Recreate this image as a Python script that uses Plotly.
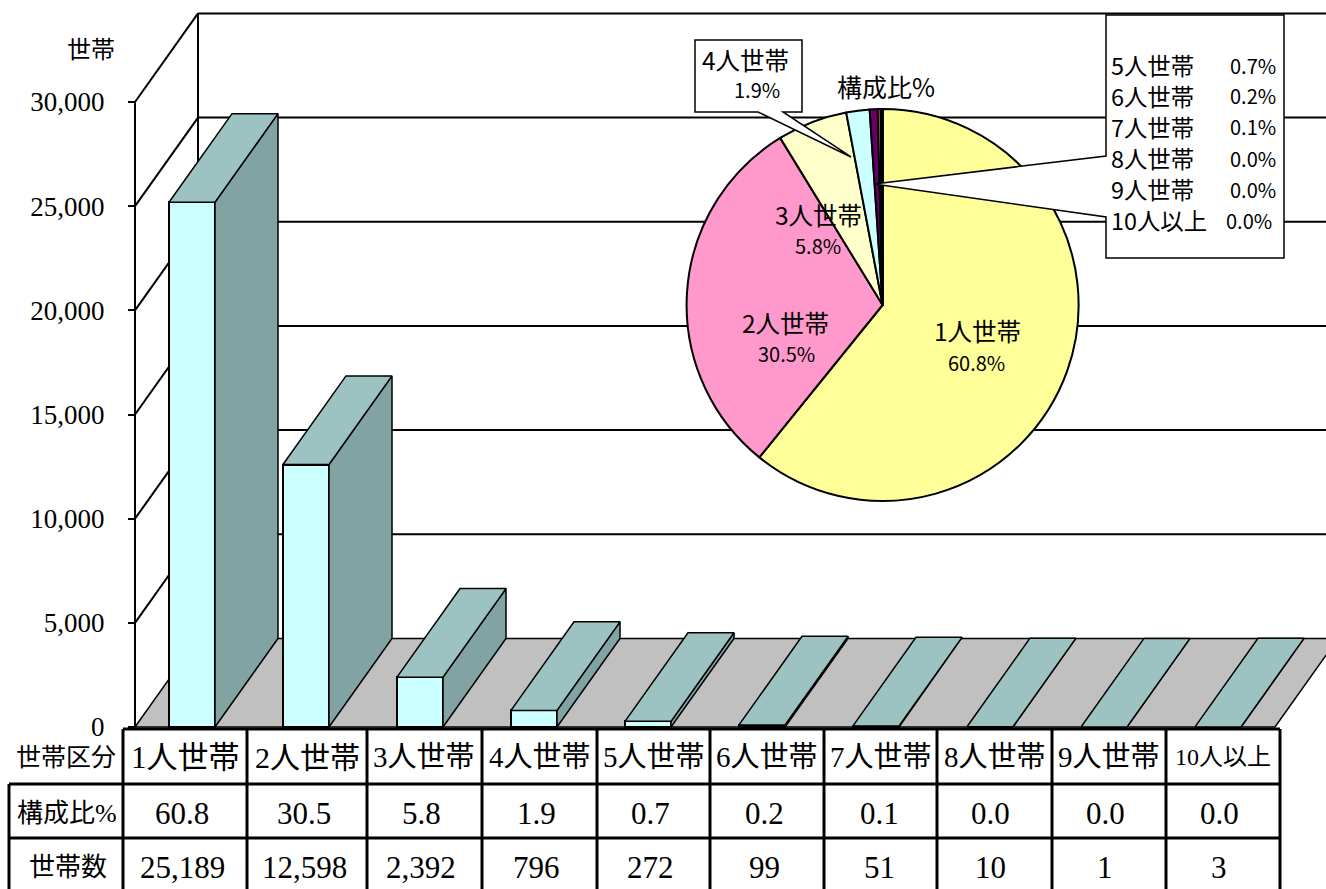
import plotly.graph_objects as go

# ---------- data ----------
categories = ["1人世帯", "2人世帯", "3人世帯", "4人世帯", "5人世帯", "6人世帯", "7人世帯", "8人世帯", "9人世帯", "10人以上"]
households = [25189, 12598, 2392, 796, 272, 99, 51, 10, 1, 3]
shares = [60.8, 30.5, 5.8, 1.9, 0.7, 0.2, 0.1, 0.0, 0.0, 0.0]
y_ticks = [0, 5000, 10000, 15000, 20000, 25000, 30000]
pie_colors = ["#FFFF99", "#FF99CC", "#FFFFCC", "#CCFFFF", "#660066", "#FF8080", "#0066CC", "#CCCCFF", "#000080", "#FF00FF"]

# ---------- layout constants ----------
W, H = 1326, 889
PX_PER_CAT = 114.0
PX_PER_VAL = 625.0 / 30000.0
X0_PX, Y0_PX = 192.0, 727.0          # pixel of category 0 / value 0
DEPTH_X = 63.0 / PX_PER_CAT
DEPTH_Y = 88.6 / PX_PER_VAL
BAR_W = 46.0 / PX_PER_CAT
X_MIN, X_MAX = -0.5, 9.5
Y_TOP = 30000
SERIF = "Liberation Serif, Noto Sans CJK JP, serif"
SANS = "Noto Sans CJK JP, sans-serif"
BLACK = "#000000"

col_edges = [123, 247, 367, 482, 597, 710, 824, 937, 1052, 1166, 1280]
row_edges = [729, 784, 838, 892]
row_centers = [757, 813, 867]
label_sizes = [31, 30, 29, 29, 29, 29, 29, 29, 29, 24]
value_centers = [182, 304, 421, 536, 650, 765, 879, 990, 1105, 1219]


def px(x):
    return x / W


def py(y):
    return 1 - y / H


def text(x, y, s, size, family=SANS, anchor="center"):
    return dict(x=px(x), y=py(y), xref="paper", yref="paper", text=s, showarrow=False,
                xanchor=anchor, yanchor="middle", borderpad=0, borderwidth=0,
                font=dict(family=family, size=size, color=BLACK))


def line(x0, y0, x1, y1, width=2, layer="below"):
    return dict(type="line", xref="x", yref="y", x0=x0, y0=y0, x1=x1, y1=y1, layer=layer,
                line=dict(color=BLACK, width=width))


def pline(x0, y0, x1, y1, width=3):
    return dict(type="line", xref="paper", yref="paper", x0=px(x0), y0=py(y0), x1=px(x1), y1=py(y1),
                layer="above", line=dict(color=BLACK, width=width))


def ppath(points):
    d = "M " + " L ".join(f"{px(a):.5f},{py(b):.5f}" for a, b in points) + " Z"
    return dict(type="path", xref="paper", yref="paper", path=d, layer="above",
                fillcolor="#FFFFFF", line=dict(color=BLACK, width=1.5))


xs = list(range(len(categories)))
fig = go.Figure()

# ---------- 3-D side and top faces, built from the values ----------
side_x, side_y, top_x, top_y = [], [], [], []
for i, v in zip(xs, households):
    r = i + BAR_W / 2
    l = i - BAR_W / 2
    side_x += [r, r + DEPTH_X, r + DEPTH_X, r, r, None]
    side_y += [0, DEPTH_Y, v + DEPTH_Y, v, 0, None]
    top_x += [l, r, r + DEPTH_X, l + DEPTH_X, l, None]
    top_y += [v, v, v + DEPTH_Y, v + DEPTH_Y, v, None]

fig.add_trace(go.Bar(x=xs, y=households, width=BAR_W, marker=dict(color="#CCFFFF", line=dict(color=BLACK, width=2)),
                     hoverinfo="skip"))
fig.add_trace(go.Scatter(x=side_x, y=side_y, mode="lines", fill="toself", fillcolor="#82A3A3",
                         line=dict(color=BLACK, width=1.5), hoverinfo="skip"))
fig.add_trace(go.Scatter(x=top_x, y=top_y, mode="lines", fill="toself", fillcolor="#9DC2C2",
                         line=dict(color=BLACK, width=1.5), hoverinfo="skip"))

# ---------- pie ----------
fig.add_trace(go.Pie(labels=categories, values=households, sort=False, direction="clockwise", rotation=0,
                     marker=dict(colors=pie_colors, line=dict(color=BLACK, width=2)),
                     textinfo="none", hoverinfo="label+percent", showlegend=False,
                     domain=dict(x=[px(686.6), px(1078.6)], y=[py(501), py(109)])))

# ---------- walls, floor, grid ----------
shapes = []
floor = (f"M {X_MIN},0 L {X_MIN + DEPTH_X},{DEPTH_Y} L {X_MAX + DEPTH_X},{DEPTH_Y} L {X_MAX},0 Z")
shapes.append(dict(type="path", xref="x", yref="y", path=floor, layer="below", fillcolor="#C0C0C0",
                   line=dict(color=BLACK, width=1.5)))
for v in y_ticks[1:]:
    shapes.append(line(X_MIN, v, X_MIN + DEPTH_X, v + DEPTH_Y))
    shapes.append(line(X_MIN + DEPTH_X, v + DEPTH_Y, X_MAX + DEPTH_X, v + DEPTH_Y))
shapes.append(line(X_MIN, 0, X_MIN, Y_TOP))
shapes.append(line(X_MIN + DEPTH_X, DEPTH_Y, X_MIN + DEPTH_X, Y_TOP + DEPTH_Y))

# ---------- callouts ----------
shapes.append(ppath([(695, 40), (802, 40), (802, 112), (783, 112), (851, 157), (758, 112), (695, 112)]))
shapes.append(ppath([(1106, 15), (1284, 15), (1284, 258), (1106, 258), (1106, 217), (874, 184), (1106, 156)]))

# ---------- table grid ----------
shapes.append(pline(col_edges[0], row_edges[0], col_edges[-1], row_edges[0]))
for r in row_edges[1:3]:
    shapes.append(pline(9, r, col_edges[-1], r))
shapes.append(pline(9, row_edges[1], 9, row_edges[3]))
for c in col_edges:
    shapes.append(pline(c, row_edges[0], c, row_edges[3]))

# ---------- texts ----------
notes = [text(91, 50, "世帯", 24, SERIF)]
notes += [text(66, row_centers[0], "世帯区分", 25, SERIF),
          text(67, row_centers[1], "構成比%", 26, SERIF),
          text(68, row_centers[2], "世帯数", 26, SERIF)]
for i, cat in enumerate(categories):
    notes.append(text((col_edges[i] + col_edges[i + 1]) / 2, row_centers[0], cat, label_sizes[i], SERIF))
    notes.append(text(value_centers[i], row_centers[1], f"{shares[i]:.1f}", 31, SERIF))
    notes.append(text(value_centers[i], row_centers[2], f"{households[i]:,}", 31, SERIF))

inside = {0: (977, 331, 976, 362), 1: (785, 322, 786, 353), 2: (818, 214, 818, 246), 3: (745, 59, 757, 90)}
for i, (a, b, c, d) in inside.items():
    notes.append(text(a, b, categories[i], 24.5))
    notes.append(text(c, d, f"{shares[i]:.1f}%", 20))
notes.append(text(886, 86, "構成比%", 25))

row_ys = [65, 96, 127, 158, 189, 220]
for i, ry in zip(range(4, 10), row_ys):
    notes.append(text(1111, ry, categories[i], 23.4, anchor="left"))
    notes.append(text(1272 if i == 9 else 1276, ry, f"{shares[i]:.1f}%", 20, anchor="right"))

fig.update_layout(
    width=W, height=H, autosize=False, margin=dict(l=0, r=0, t=0, b=0, pad=0),
    paper_bgcolor="#FFFFFF", plot_bgcolor="#FFFFFF", showlegend=False, bargap=0,
    shapes=shapes, annotations=notes,
    xaxis=dict(visible=False, range=[-X0_PX / PX_PER_CAT, (W - X0_PX) / PX_PER_CAT], domain=[0, 1]),
    yaxis=dict(range=[(Y0_PX - H) / PX_PER_VAL, Y0_PX / PX_PER_VAL], domain=[0, 1], anchor="free",
               position=135 / W, showgrid=False, zeroline=False, showline=False,
               tickmode="array", tickvals=y_ticks, tickformat=",",
               ticks="outside", ticklen=7, tickwidth=2, tickcolor=BLACK, ticklabelstandoff=18,
               tickfont=dict(family=SERIF, size=27, color=BLACK)),
)

fig.write_html("out.html", config={"displayModeBar": False},
               post_script="document.body.style.margin='0';document.body.style.overflow='hidden';")
